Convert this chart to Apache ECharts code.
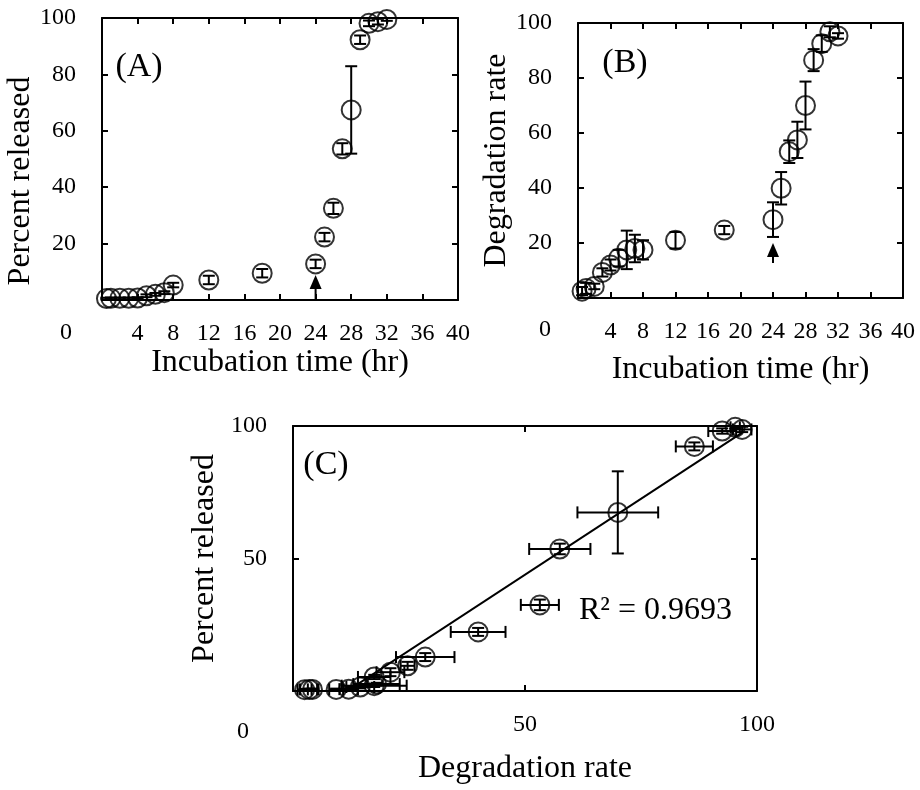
<!DOCTYPE html>
<html><head><meta charset="utf-8">
<script src="https://cdn.jsdelivr.net/npm/echarts@6/dist/echarts.min.js"></script>
<style>html,body{margin:0;padding:0;background:#fff}#c{width:920px;height:790px}</style>
</head><body><div id="c"></div>
<script>
// ---- data ----
const times          = [0.5, 1, 2, 3, 4, 5, 6, 7, 8, 12, 18, 24, 25, 26, 27, 28, 29, 30, 31, 32];
const released       = [0.5, 0.6, 0.6, 0.6, 0.7, 1.5, 2.0, 2.6, 5.3, 7.1, 9.5, 12.8, 22.3, 32.5, 53.6, 67.4, 92.3, 98.1, 98.7, 99.5];
const releasedErr    = [0.3, 0.3, 0.3, 0.3, 0.3, 0.5, 0.5, 0.5, 0.8, 1.5, 1.5, 1.5, 1.5, 2.0, 2.0, 15.5, 1.5, 1.0, 1.0, 0.5];
const degradation    = [2.5, 3.5, 4.2, 9.3, 12.0, 14.5, 17.5, 18.0, 17.5, 21.0, 24.7, 28.5, 39.9, 53.2, 57.5, 70.0, 86.5, 92.5, 96.8, 95.3];
const degradationErr = [1.5, 2.0, 1.0, 1.5, 2.0, 3.0, 7.0, 5.0, 3.5, 3.0, 1.5, 6.3, 5.9, 4.1, 6.6, 8.7, 4.0, 3.0, 2.0, 1.0];
const timeTicks  = [0, 4, 8, 12, 16, 20, 24, 28, 32, 36, 40];
const pctTicks   = [0, 20, 40, 60, 80, 100];
const corrTicks  = [0, 50, 100];
const arrowA = [24, 0, 8.9];     // time, from, to (panel A)
const arrowB = [24, 12.7, 20];   // time, from, to (panel B)
const panelLabels = ['(A)', '(B)', '(C)'];
const titleTime = 'Incubation time (hr)';
const titleRel  = 'Percent released';
const titleDeg  = 'Degradation rate';
const r2Text    = 'R\u00B2 = 0.9693';

// ---- linear trend of released vs degradation ----
const n = times.length;
const mx = degradation.reduce((a, b) => a + b, 0) / n;
const my = released.reduce((a, b) => a + b, 0) / n;
let sxy = 0, sxx = 0;
for (let i = 0; i < n; i++) { sxy += (degradation[i] - mx) * (released[i] - my); sxx += (degradation[i] - mx) ** 2; }
const slope = sxy / sxx, icpt = my - slope * mx;
const xMin = Math.min(...degradation), xMax = Math.max(...degradation);
const trend = [[xMin, slope * xMin + icpt], [xMax, slope * xMax + icpt]];

// ---- styling ----
const FONT = 'Liberation Serif';
const INK = '#000';
const TICK = 24, TITLE = 32;
const lineSt = { color: INK, width: 2 };

function xAx(g, ticks, pos, name, gap) {
  const main = pos === 'bottom';
  return {
    type: 'value', gridIndex: g, position: pos,
    min: ticks[0], max: ticks[ticks.length - 1], interval: ticks[1] - ticks[0],
    axisLine: { show: true, onZero: false, lineStyle: lineSt },
    axisTick: { show: true, inside: true, length: 6, lineStyle: lineSt },
    axisLabel: { show: main, margin: 22, fontFamily: FONT, fontSize: TICK, color: INK,
      formatter: v => (v === 0 ? '' : String(v)) },
    splitLine: { show: false },
    name: main ? name : '', nameLocation: 'middle', nameGap: gap,
    nameTextStyle: { fontFamily: FONT, fontSize: TITLE, color: INK }
  };
}
function yAx(g, ticks, pos, name, gap, pad) {
  const main = pos === 'left';
  return {
    type: 'value', gridIndex: g, position: pos,
    min: ticks[0], max: ticks[ticks.length - 1], interval: ticks[1] - ticks[0],
    axisLine: { show: true, onZero: false, lineStyle: lineSt },
    axisTick: { show: true, inside: true, length: 6, lineStyle: lineSt },
    axisLabel: { show: main, margin: 26, fontFamily: FONT, fontSize: TICK, color: INK,
      formatter: v => (v === 0 ? '' : String(v)) },
    splitLine: { show: false },
    name: main ? name : '', nameLocation: 'middle', nameGap: gap,
    nameTextStyle: { fontFamily: FONT, fontSize: TITLE, color: INK, padding: pad || 0 }
  };
}

function scatter(g, xs, ys) {
  return {
    type: 'scatter', xAxisIndex: 2 * g, yAxisIndex: 2 * g,
    data: xs.map((x, i) => [x, ys[i]]),
    symbol: 'circle', symbolSize: 19, z: 4,
    itemStyle: { color: 'rgba(255,255,255,0)', borderColor: INK, borderWidth: 2 }
  };
}
function errBars(g, xs, ys, es, dir) {
  return {
    type: 'custom', xAxisIndex: 2 * g, yAxisIndex: 2 * g, z: 3,
    data: xs.map((x, i) => [x, ys[i], es[i]]),
    encode: { x: 0, y: 1 },
    renderItem(params, api) {
      const x = api.value(0), y = api.value(1), e = api.value(2);
      const cap = 6, st = { stroke: INK, lineWidth: 2 };
      let a, b, caps;
      if (dir === 'y') {
        a = api.coord([x, y - e]); b = api.coord([x, y + e]);
        caps = [[a[0] - cap, a[1], a[0] + cap, a[1]], [b[0] - cap, b[1], b[0] + cap, b[1]]];
      } else {
        a = api.coord([x - e, y]); b = api.coord([x + e, y]);
        caps = [[a[0], a[1] - cap, a[0], a[1] + cap], [b[0], b[1] - cap, b[0], b[1] + cap]];
      }
      const ch = [{ type: 'line', shape: { x1: a[0], y1: a[1], x2: b[0], y2: b[1] }, style: st }];
      caps.forEach(c => ch.push({ type: 'line', shape: { x1: c[0], y1: c[1], x2: c[2], y2: c[3] }, style: st }));
      return { type: 'group', children: ch };
    }
  };
}
function arrow(g, arr) {
  return {
    type: 'custom', xAxisIndex: 2 * g, yAxisIndex: 2 * g, z: 5,
    data: [arr], encode: { x: 0, y: [1, 2] },
    renderItem(params, api) {
      const base = api.coord([api.value(0), api.value(1)]);
      const tip = api.coord([api.value(0), api.value(2)]);
      const hw = 6, hh = 14;
      return { type: 'group', children: [
        { type: 'line', shape: { x1: base[0], y1: base[1], x2: tip[0], y2: tip[1] + hh }, style: { stroke: INK, lineWidth: 2 } },
        { type: 'polygon', shape: { points: [[tip[0], tip[1]], [tip[0] - hw, tip[1] + hh], [tip[0] + hw, tip[1] + hh]] }, style: { fill: INK } }
      ] };
    }
  };
}
function txt(s, x, y, size, align) {
  return { type: 'text', x, y, z: 10,
    style: { text: s, fontFamily: FONT, fontSize: size, fill: INK, align: align || 'center', verticalAlign: 'middle' } };
}

const option = {
  animation: false,
  backgroundColor: '#fff',
  grid: [
    { left: 102, top: 18, width: 356, height: 282 },
    { left: 578, top: 23, width: 325, height: 275 },
    { left: 293, top: 426, width: 464, height: 265 }
  ],
  xAxis: [
    xAx(0, timeTicks, 'bottom', titleTime, 44), xAx(0, timeTicks, 'top'),
    xAx(1, timeTicks, 'bottom', titleTime, 56), xAx(1, timeTicks, 'top'),
    xAx(2, corrTicks, 'bottom', titleDeg, 62), xAx(2, corrTicks, 'top')
  ],
  yAxis: [
    yAx(0, pctTicks, 'left', titleRel, 63, [0, 44, 0, 0]), yAx(0, pctTicks, 'right'),
    yAx(1, pctTicks, 'left', titleDeg, 60), yAx(1, pctTicks, 'right'),
    yAx(2, corrTicks, 'left', titleRel, 70), yAx(2, corrTicks, 'right')
  ],
  series: [
    errBars(0, times, released, releasedErr, 'y'),
    scatter(0, times, released),
    arrow(0, arrowA),
    errBars(1, times, degradation, degradationErr, 'y'),
    scatter(1, times, degradation),
    arrow(1, arrowB),
    { type: 'line', xAxisIndex: 4, yAxisIndex: 4, data: trend, symbol: 'none', clip: true, z: 2,
      lineStyle: { color: INK, width: 2 } },
    errBars(2, degradation, released, degradationErr, 'x'),
    errBars(2, degradation, released, releasedErr, 'y'),
    scatter(2, degradation, released)
  ],
  graphic: [
    txt(panelLabels[0], 139, 67, 34),
    txt(panelLabels[1], 625, 63, 34),
    txt(panelLabels[2], 326, 465, 34),
    txt('0', 66, 333, TICK),
    txt('0', 545, 330, TICK),
    txt('0', 243, 732, TICK),
    txt(r2Text, 579, 611, TITLE, 'left')
  ]
};
const chart = echarts.init(document.getElementById('c'));
chart.setOption(option);
</script>
</body></html>
